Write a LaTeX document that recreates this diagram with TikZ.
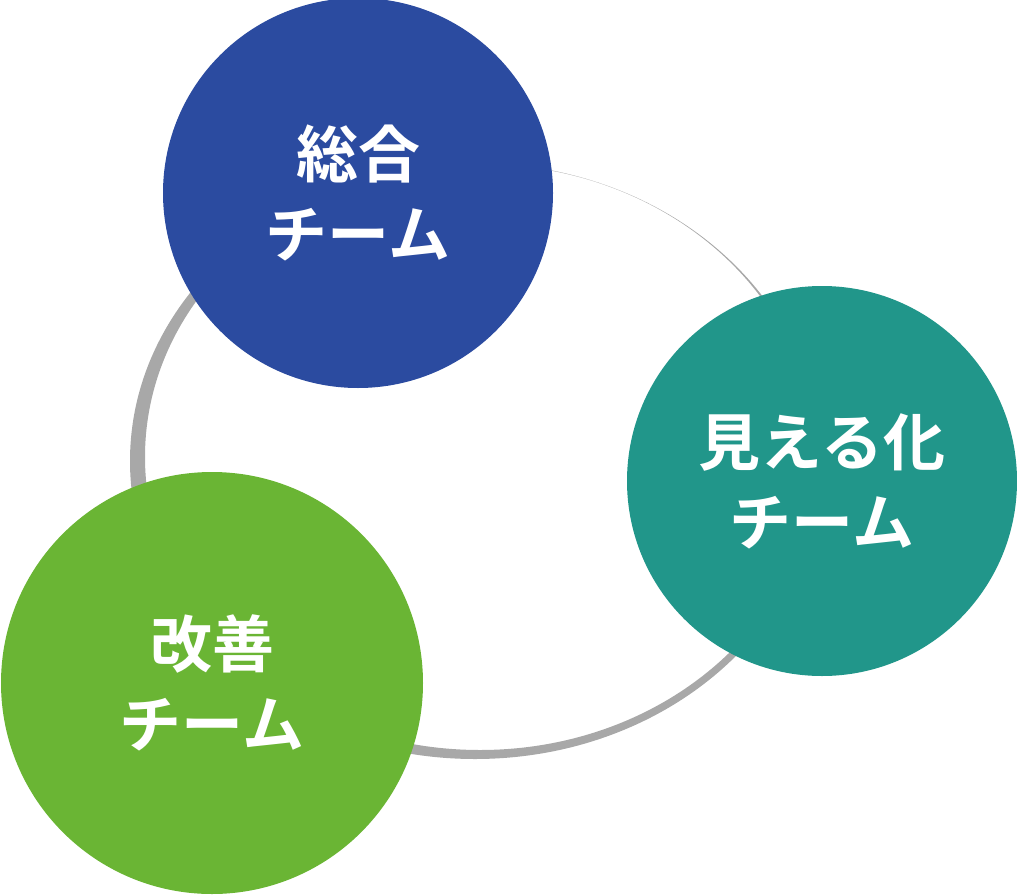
\documentclass[tikz,border=0pt]{standalone}
\usepackage{fontspec}
\newfontfamily\cjk{Noto Sans CJK JP}[BoldFont={Noto Sans CJK JP Bold}]
\definecolor{cblue}{HTML}{2B4BA0}
\definecolor{cteal}{HTML}{21968A}
\definecolor{cgreen}{HTML}{6AB534}
\definecolor{ring}{HTML}{A8A8A8}
\begin{document}
\begin{tikzpicture}[x=1pt,y=-1pt,
  team/.style={circle,inner sep=0pt,align=center,text=white,font=\cjk\bfseries\fontsize{62}{80}\selectfont}]
\useasboundingbox (0,0) rectangle (1017,894);
\fill[ring,even odd rule] (475,461) ellipse [x radius=345, y radius=298]
  (480,457) ellipse [x radius=335, y radius=293];
\node[team,fill=cblue,minimum size=390pt] (a) at (358,193) {総合\\チーム};
\node[team,fill=cteal,minimum size=390pt] (b) at (822,481) {見える化\\チーム};
\node[team,fill=cgreen,minimum size=422pt] (c) at (212,683) {改善\\チーム};
\end{tikzpicture}
\end{document}
